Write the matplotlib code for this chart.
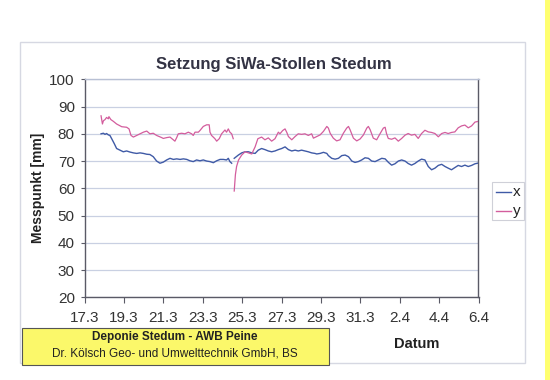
import numpy as np
import matplotlib
matplotlib.use("Agg")
import matplotlib.pyplot as plt
from matplotlib.patches import Rectangle
from matplotlib.lines import Line2D

plt.rcParams['font.family'] = ['Liberation Sans', 'DejaVu Sans']

# ---------------- data (days after 17.3.) ----------------
tick_days = [0, 2, 4, 6, 8, 10, 12, 14, 16, 18, 20]
tick_labels = ["17.3", "19.3", "21.3", "23.3", "25.3", "27.3", "29.3",
               "31.3", "2.4", "4.4", "6.4"]

x_days_1 = [0.84, 0.96, 1.04, 1.12, 1.21, 1.29, 1.38, 1.51, 1.63, 1.80, 1.97,
            2.14, 2.31, 2.48, 2.65, 2.82, 2.99, 3.16, 3.32, 3.49, 3.66, 3.83,
            4.00, 4.17, 4.34, 4.51, 4.68, 4.85, 5.02, 5.19, 5.35, 5.52, 5.69,
            5.86, 6.03, 6.20, 6.37, 6.54, 6.71, 6.88, 7.05, 7.21, 7.30, 7.38,
            7.47]
x_vals_1 = [80.0, 80.2, 79.8, 80.1, 79.6, 79.4, 78.2, 76.4, 74.6, 74.0, 73.4,
            73.7, 73.3, 73.0, 72.8, 73.0, 72.8, 72.5, 72.4, 71.6, 70.0, 69.2,
            69.6, 70.4, 71.0, 70.6, 70.8, 70.6, 70.8, 70.6, 70.1, 69.8, 70.4,
            70.1, 70.4, 70.0, 69.8, 69.4, 70.1, 70.6, 70.6, 70.4, 71.0, 69.8,
            69.2]
x_days_2 = [7.60, 7.81, 7.98, 8.15, 8.32, 8.49, 8.66, 8.82, 8.99, 9.16, 9.33,
            9.50, 9.67, 9.84, 10.01, 10.18, 10.35, 10.52, 10.69, 10.85, 11.02,
            11.19, 11.36, 11.53, 11.70, 11.79, 11.96, 12.13, 12.30, 12.38,
            12.55, 12.72, 12.89, 13.06, 13.23, 13.40, 13.57, 13.73, 13.90,
            14.07, 14.24, 14.41, 14.58, 14.75, 14.92, 15.09, 15.26, 15.43,
            15.59, 15.76, 15.93, 16.10, 16.27, 16.43, 16.60, 16.77, 16.94,
            17.11, 17.28, 17.45, 17.62, 17.79, 17.96, 18.13, 18.30, 18.46,
            18.63, 18.80, 18.97, 19.14, 19.31, 19.48, 19.65, 19.82, 19.95]
x_vals_2 = [71.0, 72.2, 73.0, 73.4, 73.4, 73.0, 72.8, 74.0, 74.6, 74.2, 73.7,
            73.4, 73.7, 74.2, 74.6, 75.2, 74.2, 73.7, 74.0, 73.7, 74.0,
            73.7, 73.4, 73.0, 72.8, 72.6, 72.8, 73.2, 72.8, 72.0,
            71.0, 70.7, 71.0, 72.0, 72.2, 71.6, 70.0, 69.5, 69.8,
            70.4, 71.2, 71.0, 70.0, 69.8, 70.4, 71.0, 70.8, 69.5,
            68.5, 69.0, 70.0, 70.4, 70.0, 69.1, 68.5, 69.1, 70.0,
            70.7, 70.4, 68.0, 66.8, 67.4, 68.4, 68.8, 68.0, 67.4,
            66.8, 67.6, 68.4, 68.0, 68.5, 68.0, 68.4, 69.0, 69.2]

y_days_1 = [0.84, 0.91, 0.96, 1.04, 1.12, 1.21, 1.24, 1.34, 1.46, 1.63, 1.89,
            2.14, 2.26, 2.36, 2.48, 2.65, 2.82, 2.99, 3.16, 3.32, 3.49, 3.66,
            3.92, 4.00, 4.17, 4.34, 4.51, 4.59, 4.68, 4.76, 4.93, 5.10, 5.27,
            5.44, 5.52, 5.61, 5.78, 5.86, 6.03, 6.20, 6.33, 6.37, 6.45, 6.62,
            6.71, 6.84, 6.96, 7.13, 7.21, 7.30, 7.38, 7.47, 7.55]
y_vals_1 = [86.6, 83.6, 84.8, 85.2, 86.0, 85.5, 86.3, 85.2, 84.6, 83.6, 82.6,
            82.4, 81.8, 79.4, 78.8, 79.4, 80.0, 80.6, 81.0, 80.0, 80.2, 79.4,
            78.6, 78.3, 78.6, 78.8, 77.8, 77.3, 78.6, 80.0, 80.2, 80.0, 80.6,
            80.0, 79.4, 80.6, 80.6, 81.2, 82.7, 83.3, 83.3, 80.6, 79.4, 78.2,
            77.3, 78.2, 80.0, 81.4, 80.6, 81.8, 80.6, 80.0, 78.2]
y_days_2 = [7.60, 7.63, 7.66, 7.72, 7.82, 7.98, 8.15, 8.32, 8.49, 8.66, 8.80,
            8.99, 9.16, 9.33, 9.50, 9.67, 9.84, 9.92, 10.06, 10.18, 10.27,
            10.35, 10.52, 10.69, 10.85, 11.02, 11.19, 11.36, 11.53, 11.62,
            11.79, 11.96, 12.13, 12.30, 12.38, 12.47, 12.63, 12.80, 12.97,
            13.14, 13.31, 13.40, 13.48, 13.65, 13.82, 13.99, 14.16, 14.33,
            14.41, 14.50, 14.66, 14.83, 15.00, 15.17, 15.26, 15.33, 15.42,
            15.59, 15.76, 15.93, 16.10, 16.27, 16.43, 16.60, 16.77, 16.94,
            17.11, 17.28, 17.45, 17.62, 17.79, 17.96, 18.13, 18.30, 18.46,
            18.63, 18.80, 18.97, 19.14, 19.31, 19.48, 19.65, 19.82, 19.95]
y_vals_2 = [59.0, 62.0, 65.0, 68.0, 70.4, 72.2, 73.4, 73.0, 72.6, 75.2, 78.2,
            78.8, 77.8, 78.5, 77.3, 78.2, 80.6, 80.0, 81.2, 81.8, 80.5,
            79.0, 77.8, 79.0, 80.0, 79.8, 80.0, 79.4, 80.0, 78.4,
            79.0, 79.6, 80.9, 82.7, 82.1, 80.2, 78.4, 77.4, 77.8,
            80.2, 82.1, 82.7, 81.5, 78.4, 77.4, 78.1, 79.6, 82.1,
            82.7, 81.5, 78.4, 77.8, 80.0, 82.1, 82.4, 80.1, 78.3,
            78.0, 78.5, 77.3, 78.3, 79.5, 80.1, 79.5, 79.8, 78.3,
            80.1, 81.3, 80.7, 80.5, 80.1, 78.9, 80.1, 80.5, 80.1,
            80.5, 80.7, 82.2, 82.9, 83.2, 82.2, 82.9, 84.3, 84.5]

series_names = ["x", "y"]
# ---------------------------------------------------------

W, H = 550, 380
fig = plt.figure(figsize=(W / 100, H / 100), dpi=100)
fig.patch.set_facecolor("white")


def fx(px):
    return px / W


def fy(py):
    return 1 - py / H


# chart area frame
fig.patches.append(Rectangle((fx(20), fy(363)), fx(525) - fx(20), fy(42) - fy(363),
                             transform=fig.transFigure, facecolor="white",
                             edgecolor="#d6d8e2", linewidth=1.0, zorder=-2))
# yellow stripe at right edge
fig.patches.append(Rectangle((fx(545), 0), fx(550) - fx(545), 1,
                             transform=fig.transFigure, facecolor="#ffff70",
                             edgecolor="none", zorder=-2))

left, right, top, bottom = 84.5, 478.5, 79.3, 297.3
ax = fig.add_axes([fx(left), fy(bottom), fx(right) - fx(left), fy(top) - fy(bottom)])
ax.set_zorder(1)
ax.set_facecolor("white")

blue = "#3f5aa6"
pink = "#d35d9d"
xd = x_days_1 + [np.nan] + x_days_2
xv = x_vals_1 + [np.nan] + x_vals_2
yd = y_days_1 + [np.nan] + y_days_2
yv = y_vals_1 + [np.nan] + y_vals_2
ax.plot(xd, xv, color=blue, lw=1.0, zorder=3)
ax.plot(yd, yv, color=pink, lw=0.9, zorder=3)

ax.set_xlim(0, 20)
ax.set_ylim(20, 100)
ax.set_yticks(range(20, 101, 10))
ax.set_xticks(tick_days)
ax.set_xticklabels(tick_labels)
ax.yaxis.grid(True, color="#c9d0e2", lw=0.9)
ax.set_axisbelow(True)
for s in ax.spines.values():
    s.set_color("#5a5a66")
    s.set_linewidth(1.0)
ax.spines["top"].set_color("#b8c0d4")
ax.tick_params(axis="y", length=3, width=0.8, color="#5a5a66", pad=4,
               labelsize=11, labelcolor="#333333")
ax.tick_params(axis="x", length=4, width=0.8, color="#5a5a66", pad=6,
               labelsize=11, labelcolor="#333333")

fig.text(fx(274), fy(65), "Setzung SiWa-Stollen Stedum", ha="center", va="center",
         fontsize=12, fontweight="bold", color="#333344")
fig.text(fx(38), fy(188), "Messpunkt [mm]", ha="center", va="center",
         rotation=90, fontsize=10, fontweight="bold", color="#222222")
fig.text(fx(417), fy(344), "Datum", ha="center", va="center",
         fontsize=10.5, fontweight="bold", color="#222222")

# yellow info box
fig.patches.append(Rectangle((fx(22), fy(365)), fx(329) - fx(22), fy(328) - fy(365),
                             transform=fig.transFigure, facecolor="#fbf86a",
                             edgecolor="#555555", linewidth=0.8, zorder=2))
fig.text(fx(175), fy(337), "Deponie Stedum - AWB Peine", ha="center", va="center",
         fontsize=8.5, fontweight="bold", color="#222222", zorder=3)
fig.text(fx(175), fy(354), "Dr. Kölsch Geo- und Umwelttechnik GmbH, BS",
         ha="center", va="center", fontsize=8.5, color="#222222", zorder=3)

# legend
fig.patches.append(Rectangle((fx(492), fy(220)), fx(524) - fx(492), fy(182) - fy(220),
                             transform=fig.transFigure, facecolor="white",
                             edgecolor="#cfd0d8", linewidth=0.8, zorder=2))
for i, (name, col) in enumerate(zip(series_names, [blue, pink])):
    yy = 192 + i * 19
    fig.lines.append(Line2D([fx(496), fx(511)], [fy(yy), fy(yy)],
                            transform=fig.transFigure, color=col, lw=1.0, zorder=3))
    fig.text(fx(513), fy(yy), name, ha="left", va="center", fontsize=11,
             color="#222222", zorder=3)

fig.savefig("out.png", dpi=100, facecolor="white")
